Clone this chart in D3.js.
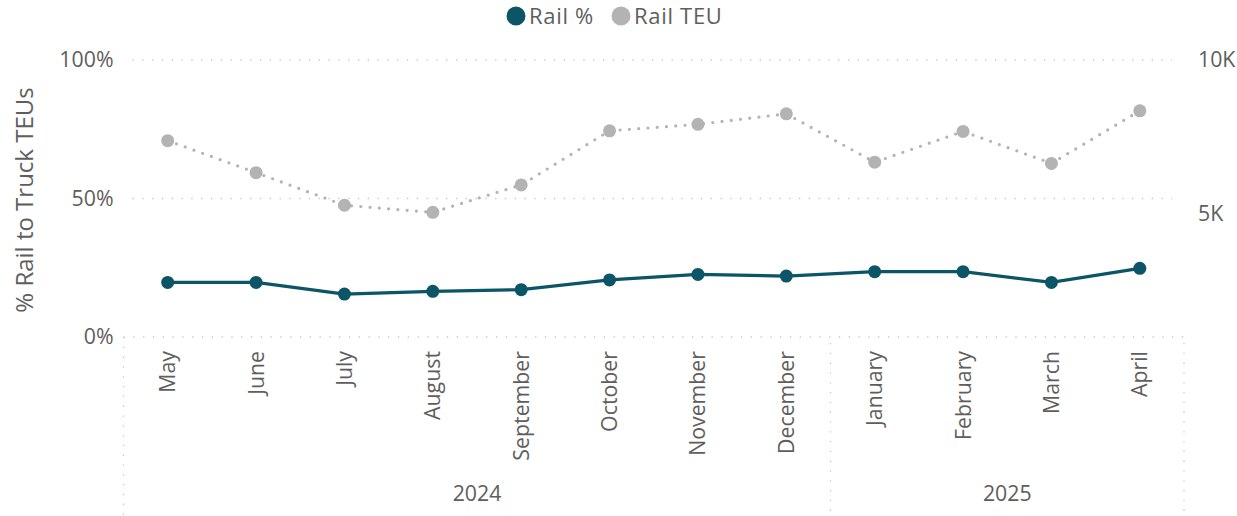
<!DOCTYPE html>
<html>
<head>
<meta charset="utf-8">
<script src="https://cdn.jsdelivr.net/npm/d3@7"></script>
<style>
  body { margin: 0; background: #fff; }
  svg text { font-family: "Segoe UI", "Open Sans", "Noto Sans", sans-serif; fill: #605E5C; }
</style>
</head>
<body>
<div id="chart"></div>
<script>
const months = ["May", "June", "July", "August", "September", "October", "November", "December", "January", "February", "March", "April"];
const years = ["2024", "2024", "2024", "2024", "2024", "2024", "2024", "2024", "2025", "2025", "2025", "2025"];
const railPct = [0.197, 0.197, 0.155, 0.165, 0.171, 0.206, 0.226, 0.220, 0.236, 0.236, 0.197, 0.248];
const railTEU = [7380, 6340, 5280, 5050, 5940, 7700, 7910, 8250, 6680, 7680, 6640, 8350];
const leftTicks = [0, 0.5, 1];
const rightTicks = [5000, 10000];

const width = 1237, height = 516;
const margin = {top: 60, right: 53, bottom: 179, left: 123.5};
const innerW = width - margin.left - margin.right;
const innerH = height - margin.top - margin.bottom;

const tealColor = "#0B5567";
const greyColor = "#B3B3B3";
const tickSize = "21.3px";

const svg = d3.select("#chart").append("svg")
    .attr("width", width)
    .attr("height", height);

const g = svg.append("g")
    .attr("transform", `translate(${margin.left},${margin.top})`);

const keys = months.map((m, i) => years[i] + "-" + m);
const x = d3.scaleBand().domain(keys).range([0, innerW]).padding(0);
const cx = k => x(k) + x.bandwidth() / 2;

const yL = d3.scaleLinear().domain([0, 1]).range([innerH, 0]);
const yR = d3.scaleLinear().domain([1000, 10000]).range([innerH, 0]);

// gridlines
g.selectAll(".grid")
    .data(leftTicks.filter(d => d > 0))
    .enter()
    .append("line")
    .attr("x1", 9)
    .attr("x2", innerW - 12)
    .attr("y1", d => yL(d))
    .attr("y2", d => yL(d))
    .attr("stroke", "#C8C8C8")
    .attr("stroke-width", 1.3)
    .attr("stroke-dasharray", "1.3,8.5");

g.append("line")
    .attr("x1", 0)
    .attr("x2", innerW)
    .attr("y1", innerH)
    .attr("y2", innerH)
    .attr("stroke", "#C8C8C8")
    .attr("stroke-width", 1.3)
    .attr("stroke-dasharray", "1.3,8.5");

// year separators
const yearBounds = [0, x(keys[8]), innerW];
g.selectAll(".sep")
    .data(yearBounds)
    .enter()
    .append("line")
    .attr("x1", d => d)
    .attr("x2", d => d)
    .attr("y1", (d, i) => i === 0 ? innerH : innerH + 6)
    .attr("y2", height - margin.top)
    .attr("stroke", "#C8C8C8")
    .attr("stroke-width", 1.3)
    .attr("stroke-dasharray", "1.3,8.5");

// left axis labels
g.selectAll(".ltick")
    .data(leftTicks)
    .enter()
    .append("text")
    .attr("x", -10)
    .attr("y", d => yL(d))
    .attr("dy", "0.35em")
    .attr("text-anchor", "end")
    .style("font-size", tickSize)
    .text(d => d3.format(".0%")(d));

// right axis labels
g.selectAll(".rtick")
    .data(rightTicks)
    .enter()
    .append("text")
    .attr("x", innerW + 14)
    .attr("y", d => yR(d))
    .attr("dy", "0.35em")
    .attr("text-anchor", "start")
    .style("font-size", tickSize)
    .text(d => d3.format(".0s")(d).replace("k", "K"));

// axis title
svg.append("text")
    .attr("transform", `translate(33,200) rotate(-90)`)
    .attr("text-anchor", "middle")
    .style("font-size", "24px")
    .text("% Rail to Truck TEUs");

// month labels
g.selectAll(".month")
    .data(keys)
    .enter()
    .append("text")
    .attr("transform", d => `translate(${cx(d)},${innerH + 14}) rotate(-90)`)
    .attr("dy", "0.35em")
    .attr("text-anchor", "end")
    .style("font-size", tickSize)
    .text((d, i) => months[i]);

// year labels
const yearGroups = d3.groups(keys.map((k, i) => ({k, y: years[i]})), d => d.y);
g.selectAll(".year")
    .data(yearGroups)
    .enter()
    .append("text")
    .attr("x", d => (x(d[1][0].k) + x(d[1][d[1].length - 1].k) + x.bandwidth()) / 2)
    .attr("y", 494 - margin.top)
    .attr("dy", "0.35em")
    .attr("text-anchor", "middle")
    .style("font-size", tickSize)
    .text(d => d[0]);

// Rail TEU dotted line
const lineTEU = d3.line()
    .x((d, i) => cx(keys[i]))
    .y(d => yR(d));

g.append("path")
    .datum(railTEU)
    .attr("fill", "none")
    .attr("stroke", greyColor)
    .attr("stroke-width", 3.2)
    .attr("stroke-linecap", "round")
    .attr("stroke-dasharray", "0,9.3")
    .attr("d", lineTEU);

g.selectAll(".teu-pt")
    .data(railTEU)
    .enter()
    .append("circle")
    .attr("cx", (d, i) => cx(keys[i]))
    .attr("cy", d => yR(d))
    .attr("r", 6.5)
    .attr("fill", greyColor);

// Rail % line
const linePct = d3.line()
    .x((d, i) => cx(keys[i]))
    .y(d => yL(d));

g.append("path")
    .datum(railPct)
    .attr("fill", "none")
    .attr("stroke", tealColor)
    .attr("stroke-width", 3.2)
    .attr("d", linePct);

g.selectAll(".pct-pt")
    .data(railPct)
    .enter()
    .append("circle")
    .attr("cx", (d, i) => cx(keys[i]))
    .attr("cy", d => yL(d))
    .attr("r", 6.5)
    .attr("fill", tealColor);

// legend
const legendItems = [
    {label: "Rail %", color: tealColor, x: 516},
    {label: "Rail TEU", color: greyColor, x: 621}
];
const legend = svg.selectAll(".legend")
    .data(legendItems)
    .enter()
    .append("g")
    .attr("transform", d => `translate(${d.x},16)`);

legend.append("circle")
    .attr("r", 9.5)
    .attr("fill", d => d.color);

legend.append("text")
    .attr("x", 13)
    .attr("dy", "0.35em")
    .style("font-size", "22px")
    .style("letter-spacing", "0.7px")
    .text(d => d.label);
</script>
</body>
</html>
